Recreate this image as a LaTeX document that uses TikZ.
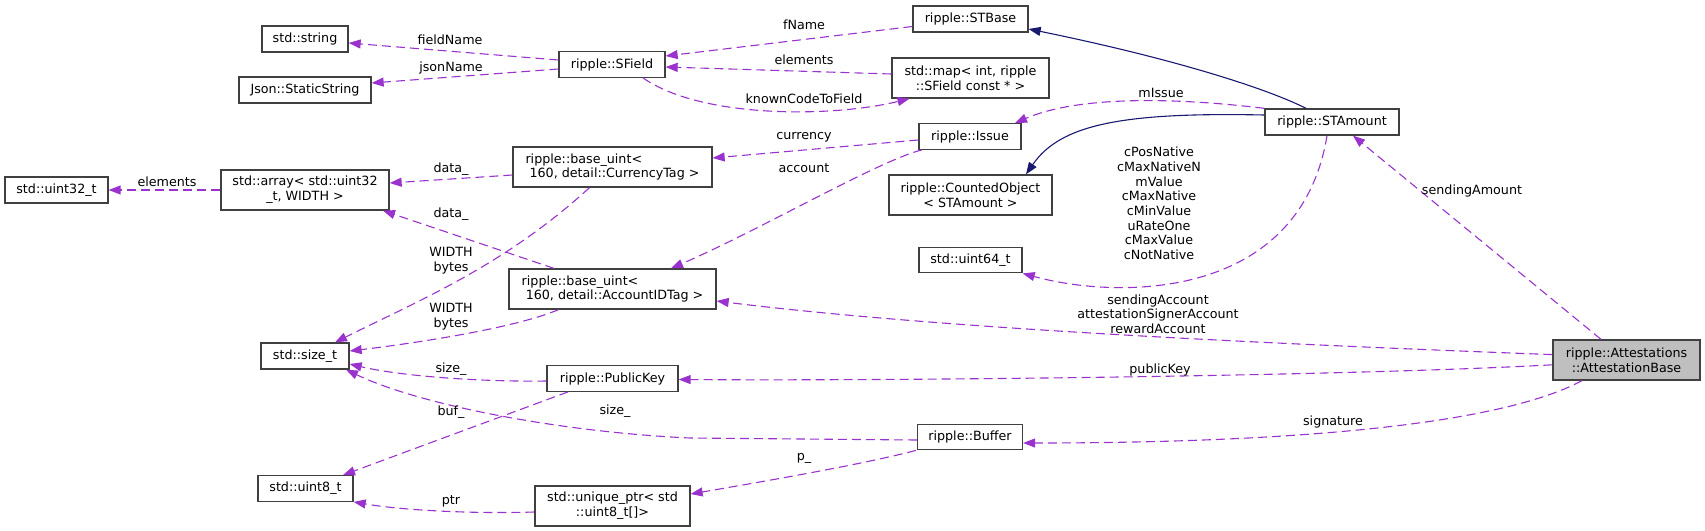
\documentclass[tikz,border=0pt]{standalone}
\usepackage{fontspec}
\setmainfont{DejaVu Sans}
\usetikzlibrary{arrows.meta}
\definecolor{usecol}{HTML}{9A32CD}
\definecolor{inhcol}{HTML}{191970}
\definecolor{bordercol}{HTML}{404040}
\definecolor{mainfill}{HTML}{BFBFBF}
\begin{document}
\begin{tikzpicture}[x=1pt,y=-1pt,
  cls/.style={draw=bordercol, line width=1.3pt, fill=white, inner sep=0pt, align=center,
    font=\fontsize{12.7}{14.7}\selectfont},
  clsl/.style={cls, align=left},
  mainnode/.style={cls, fill=mainfill},
  usearrow/.style={draw=usecol, line width=1.1pt, dash pattern=on 9pt off 5pt,
    -{Triangle[length=12pt,width=9pt]}},
  inharrow/.style={draw=inhcol, line width=1.1pt, -{Triangle[length=12pt,width=9pt]}},
  lbl/.style={font=\fontsize{12.7}{14.7}\selectfont, inner sep=0pt, align=center},
]
\useasboundingbox (0,0) rectangle (1705,530);

% nodes
\node[cls, minimum width=103pt, minimum height=26pt] (uint32) at (56.5,190) {std::uint32\_t};
\node[cls, minimum width=86pt, minimum height=26pt] (string) at (305,39) {std::string};
\node[cls, minimum width=132pt, minimum height=26pt] (json) at (305,90) {Json::StaticString};
\node[cls, minimum width=168pt, minimum height=40pt] (array) at (305,190) {std::array< std::uint32\\\_t, WIDTH >};
\node[cls, minimum width=88pt, minimum height=26pt] (sizet) at (305,356) {std::size\_t};
\node[cls, minimum width=95pt, minimum height=25.5pt] (uint8) at (305.5,488.5) {std::uint8\_t};
\node[cls, minimum width=106pt, minimum height=25.5pt] (sfield) at (612,64.5) {ripple::SField};
\node[clsl, minimum width=199pt, minimum height=40pt] (currency) at (612.5,167) {ripple::base\_uint<\\\ 160, detail::CurrencyTag >};
\node[clsl, minimum width=207pt, minimum height=40pt] (accountid) at (612.5,289) {ripple::base\_uint<\\\ 160, detail::AccountIDTag >};
\node[cls, minimum width=131pt, minimum height=25.5pt] (publickey) at (612.5,378.5) {ripple::PublicKey};
\node[cls, minimum width=155pt, minimum height=40pt] (uniqueptr) at (612.5,506) {std::unique\_ptr< std\\::uint8\_t[]>};
\node[cls, minimum width=115pt, minimum height=26pt] (stbase) at (970.5,19) {ripple::STBase};
\node[cls, minimum width=157pt, minimum height=40pt] (map) at (970.5,78) {std::map< int, ripple\\::SField const * >};
\node[cls, minimum width=102pt, minimum height=25.5pt] (issue) at (970,136.5) {ripple::Issue};
\node[cls, minimum width=163pt, minimum height=40pt] (counted) at (970.5,195) {ripple::CountedObject\\< STAmount >};
\node[cls, minimum width=103pt, minimum height=25.5pt] (uint64) at (970.5,260) {std::uint64\_t};
\node[cls, minimum width=105pt, minimum height=25.5pt] (buffer) at (970,437) {ripple::Buffer};
\node[cls, minimum width=134pt, minimum height=26pt] (stamount) at (1332,122) {ripple::STAmount};
\node[mainnode, minimum width=147pt, minimum height=40pt] (attest) at (1626.5,360) {ripple::Attestations\\::AttestationBase};

% edges
\draw[usearrow] ([yshift=4.5pt]sfield.west) -- ([yshift=-4pt]string.east);
\draw[usearrow] ([yshift=-4.5pt]sfield.west) -- ([yshift=7pt]json.east);
\draw[usearrow] (array.west) -- (uint32.east);
\draw[usearrow] ([yshift=-8pt]currency.west) -- ([yshift=7pt]array.east);
\draw[usearrow] ([xshift=-58.5pt]accountid.north) -- ([xshift=78pt]array.south);
\draw[usearrow] ([xshift=-23pt]currency.south) .. controls (505,265) and (420,300) .. ([xshift=30pt]sizet.north);
\draw[usearrow] ([xshift=-54pt]accountid.south) .. controls (510,330) and (400,345) .. ([yshift=5pt]sizet.east);
\draw[usearrow] ([yshift=-2.5pt]publickey.west) .. controls (480,382) and (400,376) .. ([yshift=-8pt]sizet.east);
\draw[usearrow] ([yshift=-3pt]buffer.west) -- (690,438) .. controls (560,432) and (420,405) .. ([xshift=41pt]sizet.south);
\draw[usearrow] ([xshift=-44.5pt]publickey.south) -- ([xshift=37.5pt]uint8.north);
\draw[usearrow] ([yshift=-6pt]uniqueptr.west) .. controls (470,514) and (400,510) .. (uint8.south east);
\draw[usearrow] ([xshift=-54pt]buffer.south) .. controls (860,465) and (760,482) .. ([yshift=12pt]uniqueptr.east);
\draw[usearrow] ([yshift=-7.5pt]stbase.west) -- ([yshift=8.5pt]sfield.east);
\draw[usearrow] ([yshift=4pt]map.west) -- ([yshift=-2.5pt]sfield.east);
\draw[usearrow] ([xshift=31pt]sfield.south) .. controls (700,118) and (830,118) .. ([xshift=-61pt]map.south);
\draw[usearrow] ([yshift=-3.5pt]issue.west) -- ([yshift=9pt]currency.east);
\draw[usearrow] ([xshift=-48pt]issue.south) .. controls (880,160) and (760,230) .. ([xshift=58.5pt]accountid.north);
\draw[usearrow] (stamount.north west) .. controls (1180,98) and (1080,95) .. ([xshift=45pt]issue.north);
\draw[inharrow] ([xshift=-26pt]stamount.north) .. controls (1270,90) and (1180,60) .. ([yshift=-10pt]stbase.east);
\draw[inharrow] ([yshift=7pt]stamount.west) .. controls (1120,112) and (1060,125) .. ([xshift=55.5pt]counted.north);
\draw[usearrow] ([xshift=-5pt]stamount.south) .. controls (1300,300) and (1120,300) .. (uint64.south east);
\draw[usearrow] ([xshift=-25.5pt]attest.north) -- ([xshift=21pt]stamount.south);
\draw[usearrow] ([yshift=5.4pt]attest.west) .. controls (1300,345) and (950,330) .. ([yshift=-12pt]accountid.east);
\draw[usearrow] ([yshift=-4.8pt]attest.west) .. controls (1350,376) and (900,381) .. ([yshift=-1pt]publickey.east);
\draw[usearrow] ([xshift=-44.5pt]attest.south) .. controls (1490,430) and (1250,443) .. ([yshift=-6pt]buffer.east);

% labels
\node[lbl] (l1) at (450,40) {fieldName};
\node[lbl] (l2) at (451,68) {jsonName};
\node[lbl] (l3) at (167,181.5) {elements};
\node[lbl] (l4) at (451,169) {data\_};
\node[lbl] (l5) at (451,214) {data\_};
\node[lbl] (l6) at (451,261) {WIDTH\\bytes};
\node[lbl] (l7) at (451,317) {WIDTH\\bytes};
\node[lbl] (l8) at (451,369) {size\_};
\node[lbl] (l9) at (615,411) {size\_};
\node[lbl] (l10) at (451,412) {buf\_};
\node[lbl] (l11) at (451,501.5) {ptr};
\node[lbl] (l12) at (804,458) {p\_};
\node[lbl] (l13) at (804,24.4) {fName};
\node[lbl] (l14) at (804,60) {elements};
\node[lbl] (l15) at (804,99) {knownCodeToField};
\node[lbl] (l16) at (804,137) {currency};
\node[lbl] (l17) at (804,168) {account};
\node[lbl] (l18) at (1161,92.6) {mIssue};
\node[lbl] (l19) at (1159,203.5) {cPosNative\\cMaxNativeN\\mValue\\cMaxNative\\cMinValue\\uRateOne\\cMaxValue\\cNotNative};
\node[lbl] (l20) at (1472,191) {sendingAmount};
\node[lbl] (l21) at (1158,314) {sendingAccount\\attestationSignerAccount\\rewardAccount};
\node[lbl] (l22) at (1160,370) {publicKey};
\node[lbl] (l23) at (1333,421.5) {signature};
\end{tikzpicture}
\end{document}
